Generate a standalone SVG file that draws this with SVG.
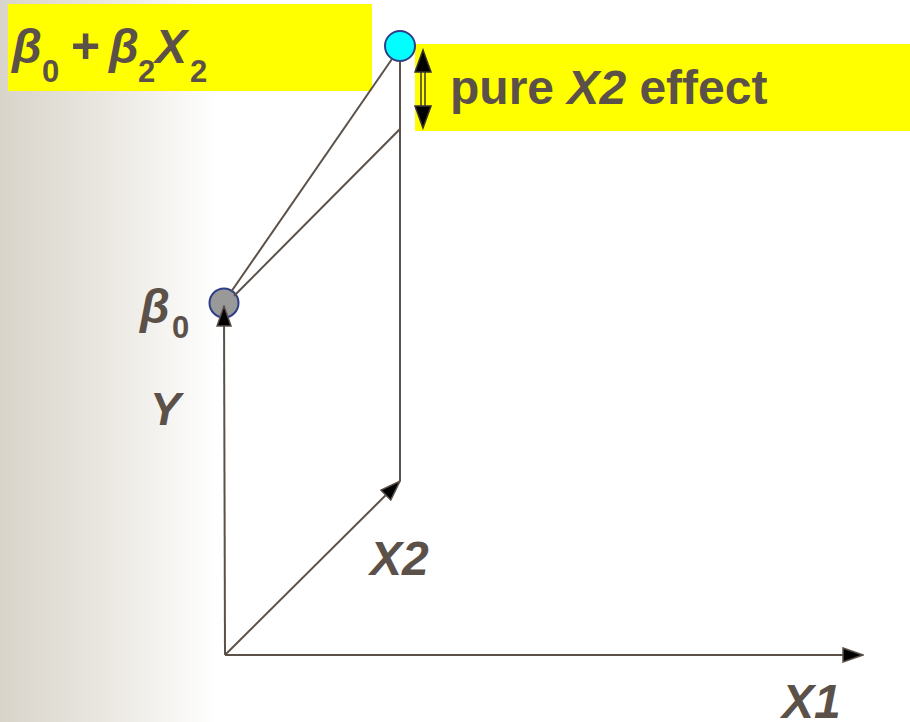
<svg xmlns="http://www.w3.org/2000/svg" width="910" height="722" viewBox="0 0 910 722">
<defs>
<linearGradient id="bg" x1="0" y1="0" x2="218" y2="0" gradientUnits="userSpaceOnUse">
<stop offset="0" stop-color="#d8d4ca"/>
<stop offset="0.5" stop-color="#ebe8e2"/>
<stop offset="1" stop-color="#ffffff"/>
</linearGradient>
<marker id="ah" viewBox="0 0 22 16" refX="21" refY="8" markerWidth="22" markerHeight="16" markerUnits="userSpaceOnUse" orient="auto">
<path d="M1,1 L21,8 L1,15 z" fill="#000" stroke="#5b5149" stroke-width="1.5" stroke-linejoin="miter"/>
</marker>
<style>
.t{font-family:"Liberation Sans",Arial,sans-serif;font-weight:bold;fill:#5b5149}
.i{font-style:italic}
.ln{stroke:#5b5149;stroke-width:2;fill:none}
.hl{fill:#ffff00}
</style>
</defs>
<rect x="0" y="0" width="910" height="722" fill="#ffffff"/>
<rect x="0" y="0" width="218" height="722" fill="url(#bg)"/>

<g id="label-b0b2x2">
<rect class="hl" x="8" y="4" width="364" height="87"/>
<text class="t i" x="12" y="63" font-size="48">β</text>
<text class="t" x="42" y="82" font-size="31">0</text>
<text class="t" x="71" y="63" font-size="50">+</text>
<text class="t i" x="109" y="63" font-size="48">β</text>
<text class="t" x="138" y="82" font-size="31">2</text>
<text class="t i" x="155" y="63" font-size="48">X</text>
<text class="t" x="190" y="82" font-size="31">2</text>
</g>

<g id="label-effect">
<rect class="hl" x="415" y="44" width="495" height="87"/>
<text class="t" x="450" y="104" font-size="48">pure <tspan class="i">X2</tspan> effect</text>
</g>

<g id="node-b0b2x2">
<circle cx="400" cy="46" r="15" fill="#00ffff" stroke="#2e3f8a" stroke-width="2"/>
</g>

<g id="node-b0">
<circle cx="224" cy="303" r="14.5" fill="#999999" stroke="#2e3f8a" stroke-width="2"/>
<text class="t i" x="140" y="323" font-size="48">β</text>
<text class="t" x="172" y="338" font-size="31">0</text>
</g>

<g id="axis-labels">
<text class="t i" x="150" y="425" font-size="46">Y</text>
<text class="t i" x="370" y="575" font-size="48">X2</text>
<text class="t i" x="782" y="718" font-size="48">X1</text>
</g>

<g id="connectors">
<line class="ln" x1="392" y1="59" x2="231" y2="292"/>
<line class="ln" x1="400" y1="129" x2="234" y2="296"/>
<line class="ln" x1="400" y1="61" x2="400" y2="481"/>
<line class="ln" x1="225" y1="655" x2="224" y2="306" marker-end="url(#ah)"/>
<line class="ln" x1="225" y1="655" x2="400" y2="481" marker-end="url(#ah)"/>
<line class="ln" x1="225" y1="655" x2="863" y2="655" marker-end="url(#ah)"/>
<g id="double-arrow">
<rect x="421" y="71" width="4" height="36" fill="#ffff00" stroke="#3a3430" stroke-width="1.5"/>
<path d="M423,50 L431,72 L415,72 z" fill="#000" stroke="#3a3430" stroke-width="1.5"/>
<path d="M423,128 L431,106 L415,106 z" fill="#000" stroke="#3a3430" stroke-width="1.5"/>
</g>
</g>
</svg>
